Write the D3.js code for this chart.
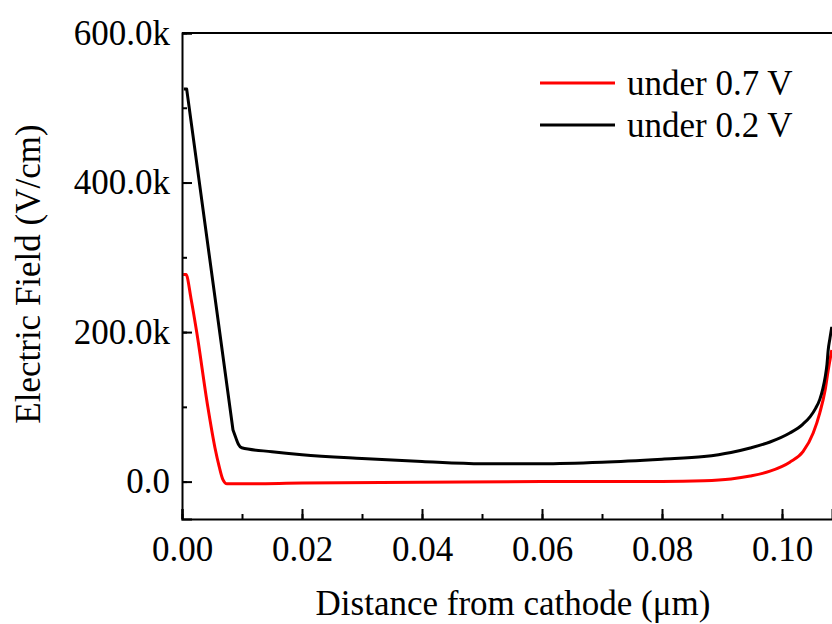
<!DOCTYPE html>
<html>
<head>
<meta charset="utf-8">
<script src="https://cdn.jsdelivr.net/npm/d3@7"></script>
<style>
  body { margin: 0; background: #fff; }
  svg text { font-family: "Liberation Serif", "Times New Roman", serif; fill: #000; }
</style>
</head>
<body>
<div id="chart"></div>
<script>
// Series data (distance in um, field in V/cm)
const redX = [0.0002, 0.00067, 0.0015, 0.00245, 0.0043, 0.0055, 0.0062, 0.0068, 0.0075, 0.010, 0.020, 0.040, 0.060, 0.080, 0.087, 0.0915, 0.0947, 0.098, 0.1013, 0.1035, 0.1052, 0.1063, 0.1072, 0.1077, 0.1083];
const redY = [277000, 277000, 245000, 200000, 100000, 45000, 20000, 3000, -3000, -3000, -2000, -1000, 0, 0, 1000, 3500, 7500, 14000, 26000, 40000, 65000, 92000, 123000, 149000, 176000];
const blackX = [0.0003, 0.00078, 0.0085, 0.0090, 0.0094, 0.00995, 0.015, 0.020, 0.030, 0.040, 0.050, 0.060, 0.070, 0.080, 0.087, 0.0915, 0.0947, 0.098, 0.1013, 0.1035, 0.1047, 0.1056, 0.1063, 0.1068, 0.1072, 0.1075, 0.1077, 0.1080, 0.1083];
const blackY = [525000, 525000, 69000, 58000, 50000, 45300, 40000, 36000, 31000, 27000, 24000, 24000, 26000, 30000, 33500, 39000, 45000, 53000, 65000, 77000, 87000, 98000, 110000, 124000, 140000, 157000, 176000, 192000, 207000];
const seriesNames = ["under 0.7 V", "under 0.2 V"];
const seriesColors = ["#ff0000", "#000000"];
const yTicks = [0, 200000, 400000, 600000];
const yTickLabels = ["0.0", "200.0k", "400.0k", "600.0k"];
const xTicks = [0, 0.02, 0.04, 0.06, 0.08, 0.10];

const W = 832, H = 624;
const m = { left: 182, right: 0, top: 33, bottom: 105 };
const fs = 35;

const svg = d3.select("#chart").append("svg").attr("width", W).attr("height", H);

const x = d3.scaleLinear().domain([0, 0.108333]).range([m.left, W - m.right]);
const y = d3.scaleLinear().domain([-50000, 600000]).range([H - m.bottom, m.top]);

// Clip
svg.append("clipPath").attr("id", "clip").append("rect")
  .attr("x", m.left).attr("y", m.top).attr("width", W - m.left - m.right).attr("height", H - m.top - m.bottom);

// Lines
const redLine = d3.line().x(d => x(d[0])).y(d => y(d[1])).curve(d3.curveMonotoneX);
const blackLine = d3.line().x(d => x(d[0])).y(d => y(d[1])).curve(d3.curveMonotoneX);
svg.append("path").datum(d3.zip(redX, redY)).attr("d", redLine).attr("clip-path", "url(#clip)")
  .attr("fill", "none").attr("stroke", seriesColors[0]).attr("stroke-width", 3).attr("stroke-linejoin", "round");
// black: straight drop, then smooth
const blackDrop = d3.zip(blackX.slice(0, 3), blackY.slice(0, 3));
const blackRest = d3.zip(blackX.slice(2), blackY.slice(2));
const blackPath = d3.line().x(d => x(d[0])).y(d => y(d[1]))(blackDrop) + blackLine(blackRest).replace(/^M/, "L");
svg.append("path").attr("d", blackPath).attr("clip-path", "url(#clip)")
  .attr("fill", "none").attr("stroke", seriesColors[1]).attr("stroke-width", 3).attr("stroke-linejoin", "round");

// Axes (ticks inside)
const yMinor = d3.range(0, 600001, 100000);
const xMinor = d3.range(0, 0.1081, 0.01);
const gx = svg.append("g").attr("transform", "translate(0," + (H - m.bottom) + ")");
gx.call(d3.axisBottom(x).tickValues(xMinor).tickSize(-5).tickFormat(""));
gx.call(g => g.selectAll(".domain").remove());
const gx2 = svg.append("g").attr("transform", "translate(0," + (H - m.bottom) + ")");
gx2.call(d3.axisBottom(x).tickValues(xTicks).tickSize(-10).tickPadding(17).tickFormat(d3.format(".2f")));
gx2.selectAll("text").attr("font-size", fs);

const gy = svg.append("g").attr("transform", "translate(" + m.left + ",0)");
gy.call(d3.axisLeft(y).tickValues(yMinor).tickSize(-5).tickFormat(""));
gy.call(g => g.selectAll(".domain").remove());
const gy2 = svg.append("g").attr("transform", "translate(" + m.left + ",0)");
gy2.call(d3.axisLeft(y).tickValues(yTicks).tickSize(-10).tickPadding(12).tickFormat((d, i) => yTickLabels[i]));
gy2.selectAll("text").attr("font-size", fs);

svg.selectAll(".domain").attr("stroke-width", 2);
svg.selectAll(".tick line").attr("stroke-width", 2);

// Top spine
svg.append("line").attr("x1", m.left).attr("x2", W).attr("y1", m.top).attr("y2", m.top)
  .attr("stroke", "#000").attr("stroke-width", 2);

// Axis titles
svg.append("text").text("Distance from cathode (\u03bcm)").attr("x", 513).attr("y", 615)
  .attr("text-anchor", "middle").attr("font-size", fs);
svg.append("text").text("Electric Field (V/cm)").attr("transform", "translate(40,274) rotate(-90)")
  .attr("text-anchor", "middle").attr("font-size", fs);

// Legend
seriesNames.forEach((n, i) => {
  const ly = 83 + i * 42;
  svg.append("line").attr("x1", 540).attr("x2", 615).attr("y1", ly).attr("y2", ly)
    .attr("stroke", seriesColors[i]).attr("stroke-width", 3);
  svg.append("text").text(n).attr("x", 627).attr("y", ly + 12).attr("font-size", fs);
});
</script>
</body>
</html>
